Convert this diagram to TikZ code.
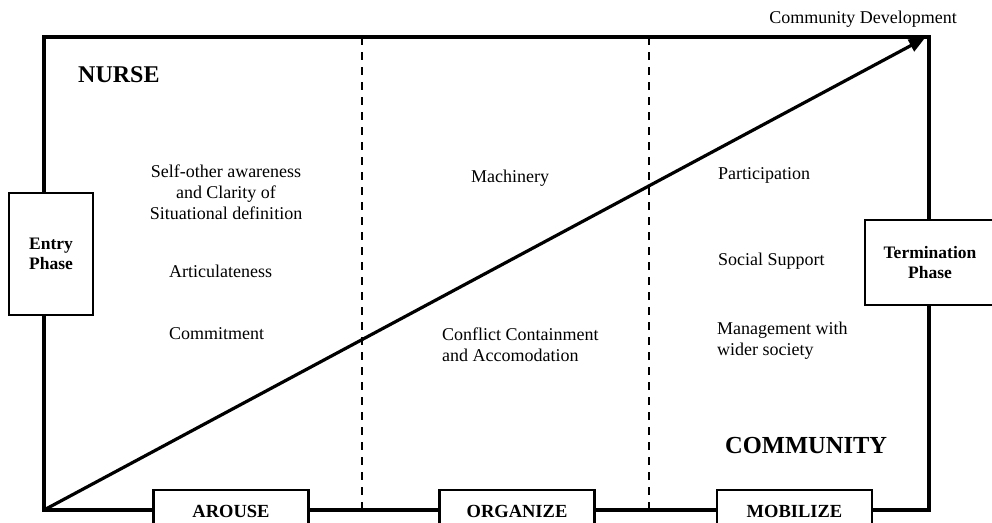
\documentclass[tikz,border=0pt]{standalone}
\usepackage{fontspec}
\setmainfont{Liberation Serif}
\usetikzlibrary{arrows.meta, positioning}
\tikzset{
    frame/.style={line width=3.2pt},
    divider/.style={line width=2pt, dash pattern=on 8pt off 7pt},
    growth/.style={-{Triangle[length=16pt, width=13pt]}, line width=3.2pt},
    phasebox/.style={draw, line width=2.2pt, fill=white, align=center,
                     font=\fontsize{17.5}{20}\selectfont\bfseries, inner sep=2pt},
    stagebox/.style={draw, line width=2.2pt, fill=white, minimum width=155pt,
                     minimum height=42pt, font=\fontsize{18.5}{21}\selectfont\bfseries},
    item/.style={font=\fontsize{18}{21}\selectfont, inner sep=0pt},
    role/.style={font=\fontsize{24}{28}\selectfont\bfseries, inner sep=0pt},
}

\begin{document}
\begin{tikzpicture}[x=1pt, y=-1pt]
\useasboundingbox (0,0) rectangle (992,522);
\clip (0,0) rectangle (992,522);

% frame of the process
\coordinate (tl) at (44,37);
\coordinate (br) at (929,510);
\coordinate (bl) at (44,510);
\coordinate (tip) at (925,38);
\draw[frame] (tl) rectangle (br);

% dashed borders between the stages
\foreach \x in {362,649}{\draw[divider] (\x,37) -- (\x,510);}

% growth line to community development
\draw[growth] (bl) -- (tip);
\node[item, anchor=base] (dev) at (863,23) {Community Development};

% phases on the sides
\node[phasebox, minimum width=84pt, minimum height=122pt] (entry) at (51,254) {Entry\\Phase};
\node[phasebox, minimum width=130pt, minimum height=85pt] (term) at (930,262.5) {Termination\\Phase};

% stages along the bottom
\node[stagebox] (arouse) at (231,511) {AROUSE};
\node[stagebox] (organize) at (517,511) {ORGANIZE};
\node[stagebox] (mobilize) at (794.5,511) {MOBILIZE};

% actors
\node[role, anchor=base west] (nurse) at (78,82) {NURSE};
\node[role, font=\fontsize{24.5}{28}\selectfont\bfseries, anchor=base west] (community) at (725,453) {COMMUNITY};

% arouse
\node[item, align=center] (aware) at (226,192) {Self-other awareness\\and Clarity of\\Situational definition};
\node[item, anchor=base west] (artic) at (169,277) {Articulateness};
\node[item, anchor=base west] (commit) at (169,339) {Commitment};

% organize
\node[item, anchor=base west] (mach) at (471,182) {Machinery};
\node[item, align=left, anchor=west] (conflict) at (442,345) {Conflict Containment\\and Accomodation};

% mobilize
\node[item, align=left, anchor=west] (manage) at (717,341) {Management with\\wider society};
\node[item, anchor=base west] (partic) at (718,179) {Participation};
\node[item, anchor=base west] (support) at (718,265) {Social Support};

\end{tikzpicture}
\end{document}
